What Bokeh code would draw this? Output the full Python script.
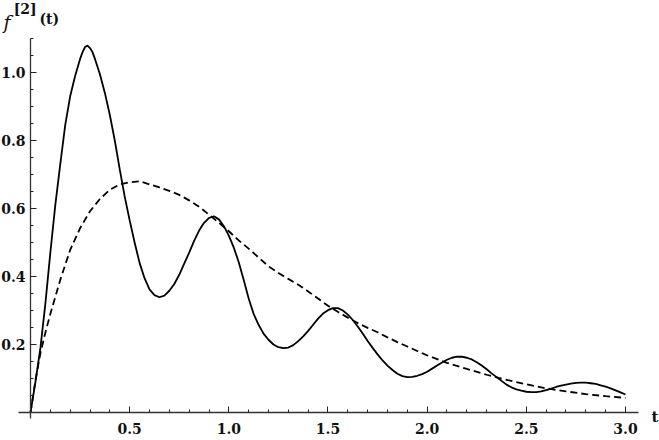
from bokeh.plotting import figure
from bokeh.models import FixedTicker, Label, Range1d, PrintfTickFormatter
from bokeh.embed import file_html
from bokeh.resources import INLINE

# ---- data ----
solid_t = [0.0, 0.025, 0.05, 0.075, 0.1, 0.125, 0.15, 0.175, 0.2, 0.225, 0.25, 0.2625,
           0.275, 0.2875, 0.3, 0.3125, 0.325, 0.35, 0.375, 0.4, 0.425, 0.45, 0.475, 0.5,
           0.525, 0.55, 0.575, 0.6, 0.625, 0.65, 0.675, 0.7, 0.725, 0.75, 0.775, 0.8,
           0.825, 0.85, 0.875, 0.9, 0.925, 0.95, 0.975, 1.0, 1.025, 1.05, 1.075, 1.1,
           1.125, 1.15, 1.175, 1.2, 1.225, 1.25, 1.275, 1.3, 1.325, 1.35, 1.375, 1.4,
           1.425, 1.45, 1.475, 1.5, 1.525, 1.55, 1.575, 1.6, 1.625, 1.65, 1.675, 1.7,
           1.725, 1.75, 1.775, 1.8, 1.825, 1.85, 1.875, 1.9, 1.925, 1.95, 1.975, 2.0,
           2.025, 2.05, 2.075, 2.1, 2.125, 2.15, 2.175, 2.2, 2.225, 2.25, 2.275, 2.3,
           2.325, 2.35, 2.375, 2.4, 2.425, 2.45, 2.475, 2.5, 2.525, 2.55, 2.575, 2.6,
           2.625, 2.65, 2.675, 2.7, 2.725, 2.75, 2.775, 2.8, 2.825, 2.85, 2.875, 2.9,
           2.925, 2.95, 2.975, 3.0]
solid_f = [0.0, 0.09, 0.19, 0.32, 0.47, 0.61, 0.73, 0.845, 0.93, 0.99, 1.04, 1.06,
           1.075, 1.079, 1.072, 1.06, 1.04, 0.995, 0.94, 0.875, 0.80, 0.715, 0.635, 0.565,
           0.50, 0.44, 0.395, 0.362, 0.345, 0.339, 0.344, 0.358, 0.378, 0.405, 0.438, 0.47,
           0.505, 0.535, 0.558, 0.572, 0.577, 0.568, 0.548, 0.52, 0.485, 0.442, 0.39, 0.335,
           0.29, 0.258, 0.232, 0.214, 0.2, 0.192, 0.189, 0.191, 0.198, 0.21, 0.224, 0.24,
           0.258, 0.276, 0.291, 0.301, 0.307, 0.307, 0.3, 0.288, 0.272, 0.253, 0.232, 0.21,
           0.19, 0.171, 0.153, 0.138, 0.125, 0.114, 0.107, 0.104, 0.105, 0.108, 0.113, 0.12,
           0.129, 0.138, 0.147, 0.155, 0.161, 0.164, 0.164, 0.161, 0.156, 0.148, 0.138, 0.127,
           0.115, 0.104, 0.093, 0.082, 0.074, 0.068, 0.064, 0.061, 0.060, 0.060, 0.062, 0.066,
           0.070, 0.075, 0.079, 0.082, 0.085, 0.087, 0.088, 0.088, 0.086, 0.084, 0.080, 0.076,
           0.071, 0.065, 0.059, 0.053]

dash_t = [0.0, 0.025, 0.05, 0.075, 0.1, 0.125, 0.15, 0.2, 0.25, 0.3, 0.35, 0.4, 0.45,
          0.5, 0.55, 0.6, 0.65, 0.7, 0.75, 0.8, 0.85, 0.9, 0.95, 1.0, 1.05, 1.1, 1.15,
          1.2, 1.25, 1.3, 1.35, 1.4, 1.45, 1.5, 1.55, 1.6, 1.65, 1.7, 1.75, 1.8, 1.85,
          1.9, 1.95, 2.0, 2.1, 2.2, 2.3, 2.4, 2.5, 2.6, 2.7, 2.8, 2.9, 3.0]
dash_f = [0.0, 0.095, 0.175, 0.235, 0.29, 0.34, 0.39, 0.478, 0.542, 0.592, 0.628, 0.655,
          0.671, 0.677, 0.680, 0.671, 0.662, 0.652, 0.640, 0.624, 0.605, 0.582, 0.558,
          0.533, 0.506, 0.482, 0.456, 0.43, 0.41, 0.393, 0.376, 0.356, 0.335, 0.314,
          0.296, 0.279, 0.263, 0.249, 0.236, 0.221, 0.207, 0.194, 0.181, 0.168, 0.146,
          0.128, 0.111, 0.096, 0.083, 0.071, 0.062, 0.054, 0.048, 0.043]

x_major = [0.5, 1.0, 1.5, 2.0, 2.5, 3.0]
x_minor = [0.1, 0.2, 0.3, 0.4, 0.6, 0.7, 0.8, 0.9, 1.1, 1.2, 1.3, 1.4, 1.6, 1.7, 1.8, 1.9,
           2.1, 2.2, 2.3, 2.4, 2.6, 2.7, 2.8, 2.9]
y_major = [0.2, 0.4, 0.6, 0.8, 1.0]
y_minor = [0.05, 0.1, 0.15, 0.25, 0.3, 0.35, 0.45, 0.5, 0.55, 0.65, 0.7, 0.75, 0.85,
           0.9, 0.95, 1.05, 1.1]

SERIF = "DejaVu Serif"

p = figure(frame_width=659, frame_height=440,
           min_border_left=0, min_border_right=0, min_border_top=0, min_border_bottom=0,
           x_range=Range1d(-0.1513, 3.1715), y_range=Range1d(-0.0824, 1.2118),
           output_backend="svg", toolbar_location=None, tools="")
p.outline_line_color = None
p.grid.visible = False
p.background_fill_color = "white"
p.border_fill_color = "white"

p.line(solid_t, solid_f, line_color="black", line_width=1.8)
p.line(dash_t, dash_f, line_color="black", line_width=1.8, line_dash="7 4")

for ax, tk, mn, bd in ((p.xaxis[0], x_major, x_minor, (-0.06, 3.066)),
                       (p.yaxis[0], y_major, y_minor, (-0.018, 1.10))):
    ax.ticker = FixedTicker(ticks=tk, minor_ticks=mn)
    ax.formatter = PrintfTickFormatter(format="%.1f")
    ax.fixed_location = 0
    ax.bounds = bd
    ax.axis_line_color = "#333333"
    ax.axis_line_width = 1.3
    ax.major_tick_in = 6
    ax.major_tick_out = 0
    ax.minor_tick_in = 3
    ax.minor_tick_out = 0
    ax.major_tick_line_color = "#222222"
    ax.minor_tick_line_color = "#222222"
    ax.major_label_text_font = SERIF
    ax.major_label_text_font_style = "bold"
    ax.major_label_text_font_size = "14px"
    ax.major_label_text_color = "#111111"

p.xaxis[0].major_label_standoff = 11
p.yaxis[0].major_label_standoff = 5

# axis labels
p.add_layout(Label(x=-0.136, y=1.15, text="f", text_font=SERIF, text_font_style="italic",
                   text_font_size="19px", text_color="#111111", text_baseline="alphabetic"))
p.add_layout(Label(x=-0.085, y=1.188, text="[2]", text_font=SERIF, text_font_style="bold",
                   text_font_size="14px", text_color="#111111", text_baseline="alphabetic"))
p.add_layout(Label(x=0.045, y=1.156, text="(t)", text_font=SERIF, text_font_style="bold",
                   text_font_size="14px", text_color="#111111", text_baseline="alphabetic"))
p.add_layout(Label(x=3.131, y=-0.012, text="t", text_font=SERIF, text_font_style="bold",
                   text_font_size="15px", text_color="#111111", text_baseline="alphabetic"))

open("out.html", "w").write(file_html(p, INLINE))
